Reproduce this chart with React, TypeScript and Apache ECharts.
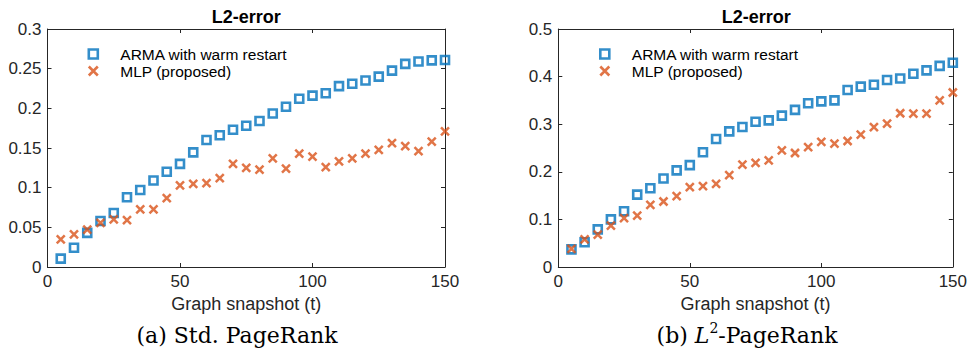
import React, { useEffect, useRef } from "react";
import * as echarts from "echarts";

// Snapshot index (x) shared by both panels
const snapshots = [
  5, 10, 15, 20, 25, 30, 35, 40, 45, 50, 55, 60, 65, 70, 75,
  80, 85, 90, 95, 100, 105, 110, 115, 120, 125, 130, 135, 140, 145, 150,
];

// (a) Std. PageRank
const armaStd = [
  0.0105, 0.0243, 0.043, 0.058, 0.068, 0.088, 0.097, 0.109, 0.12, 0.13,
  0.1445, 0.16, 0.166, 0.173, 0.178, 0.184, 0.1935, 0.202, 0.212, 0.216,
  0.219, 0.228, 0.231, 0.235, 0.24, 0.2475, 0.256, 0.259, 0.2605, 0.261,
];
const mlpStd = [
  0.0348, 0.041, 0.047, 0.0557, 0.06, 0.059, 0.0725, 0.0725, 0.0867, 0.103,
  0.1047, 0.1056, 0.112, 0.13, 0.125, 0.1227, 0.137, 0.124, 0.143, 0.139,
  0.126, 0.133, 0.137, 0.143, 0.1475, 0.156, 0.1525, 0.146, 0.158, 0.171,
];

// (b) L2-PageRank
const armaL2 = [
  0.037, 0.052, 0.079, 0.1, 0.117, 0.152, 0.1655, 0.186, 0.203, 0.214,
  0.241, 0.269, 0.285, 0.294, 0.305, 0.308, 0.318, 0.33, 0.344, 0.348,
  0.35, 0.372, 0.379, 0.383, 0.393, 0.396, 0.406, 0.413, 0.4225, 0.429,
];
const mlpL2 = [
  0.038, 0.058, 0.068, 0.087, 0.1027, 0.108, 0.1306, 0.1376, 0.149, 0.168,
  0.17, 0.1746, 0.193, 0.215, 0.2186, 0.224, 0.245, 0.2395, 0.252, 0.263,
  0.259, 0.2647, 0.278, 0.294, 0.301, 0.323, 0.322, 0.322, 0.35, 0.3666,
];

const seriesNames = ["ARMA with warm restart", "MLP (proposed)"];
const panelTitle = "L2-error";
const xAxisName = "Graph snapshot (t)";
const xTicks = { min: 0, max: 150, interval: 50 };
const yTicksStd = { min: 0, max: 0.3, interval: 0.05 };
const yTicksL2 = { min: 0, max: 0.5, interval: 0.1 };

const BLUE = "#0072BD";
const ORANGE = "#D95319";
const AXIS = "#262626";
const SANS = "'Liberation Sans', Arial, Helvetica, sans-serif";
const SERIF = "'DejaVu Serif', 'Liberation Serif', serif";

const grids = [
  { left: 47.5, top: 29, width: 397.5, height: 238 },
  { left: 558.3, top: 29, width: 396, height: 238 },
];

const pairs = (ys: number[]) => snapshots.map((x, i) => [x, ys[i]]);

function buildOption() {
  const xAxes: any[] = [];
  const yAxes: any[] = [];
  const yRanges = [yTicksStd, yTicksL2];
  const tick = { show: true, inside: true, length: 4, lineStyle: { color: AXIS } };
  const line = { show: true, onZero: false, lineStyle: { color: AXIS, width: 1 } };
  grids.forEach((_, gi) => {
    // bottom axis with labels + top mirror axis closing the box
    xAxes.push({
      type: "value",
      gridIndex: gi,
      position: "bottom",
      ...xTicks,
      name: xAxisName,
      nameLocation: "middle",
      nameGap: 25,
      nameTextStyle: { fontFamily: SANS, fontSize: 18, color: AXIS },
      axisLine: line,
      axisTick: tick,
      axisLabel: { margin: 6, fontFamily: SANS, fontSize: 17, color: AXIS },
      splitLine: { show: false },
    });
    xAxes.push({
      type: "value",
      gridIndex: gi,
      position: "top",
      ...xTicks,
      axisLine: line,
      axisTick: tick,
      axisLabel: { show: false },
      splitLine: { show: false },
    });
    yAxes.push({
      type: "value",
      gridIndex: gi,
      position: "left",
      ...yRanges[gi],
      axisLine: line,
      axisTick: tick,
      axisLabel: { margin: 6, fontFamily: SANS, fontSize: 17, color: AXIS },
      splitLine: { show: false },
    });
    yAxes.push({
      type: "value",
      gridIndex: gi,
      position: "right",
      ...yRanges[gi],
      axisLine: line,
      axisTick: tick,
      axisLabel: { show: false },
      splitLine: { show: false },
    });
  });

  // hollow square and "x" markers
  const square = {
    symbol: "path://M0,0L10,0L10,10L0,10Z",
    symbolSize: 8,
    symbolKeepAspect: true,
    itemStyle: { color: "rgba(0,0,0,0)", borderColor: BLUE, borderWidth: 2.6 },
  };
  const cross = {
    symbol: "path://M0,0L10,10M10,0L0,10",
    symbolSize: 8,
    symbolKeepAspect: true,
    itemStyle: { color: "rgba(0,0,0,0)", borderColor: ORANGE, borderWidth: 2.5 },
  };

  const panels = [
    [armaStd, mlpStd],
    [armaL2, mlpL2],
  ];
  const series: any[] = [];
  panels.forEach((vals, gi) => {
    series.push({
      type: "scatter",
      name: seriesNames[0],
      xAxisIndex: gi * 2,
      yAxisIndex: gi * 2,
      data: pairs(vals[0]),
      ...square,
    });
    series.push({
      type: "scatter",
      name: seriesNames[1],
      xAxisIndex: gi * 2,
      yAxisIndex: gi * 2,
      data: pairs(vals[1]),
      ...cross,
    });
  });

  const legendBase = {
    orient: "vertical",
    top: 41,
    itemWidth: 9,
    itemHeight: 9,
    itemGap: 1,
    itemStyle: { borderWidth: 2.6 },
    textStyle: { fontFamily: SANS, fontSize: 15.5, color: "#000", padding: [0, 0, 0, 17.5] },
    data: seriesNames,
  };

  return {
    animation: false,
    backgroundColor: "#fff",
    grid: grids.map((g) => ({ ...g, show: false, containLabel: false })),
    xAxis: xAxes,
    yAxis: yAxes,
    series,
    legend: [
      { ...legendBase, left: 82.5 },
      { ...legendBase, left: 594 },
    ],
    graphic: [
      ...grids.map((g) => ({
        type: "text",
        x: g.left + g.width / 2,
        y: 17,
        style: {
          text: panelTitle,
          font: `bold 18px ${SANS}`,
          fill: "#000",
          align: "center",
          verticalAlign: "middle",
        },
      })),
      {
        type: "text",
        x: 237,
        y: 335,
        style: {
          text: "(a) Std. PageRank",
          font: `22px ${SERIF}`,
          fill: "#000",
          align: "center",
          verticalAlign: "middle",
        },
      },
      {
        type: "text",
        x: 747,
        y: 335,
        style: {
          text: "{n|(b) }{i|L}{s|2}{n|-PageRank}",
          fill: "#000",
          align: "center",
          verticalAlign: "middle",
          rich: {
            n: { fontFamily: SERIF, fontSize: 22, lineHeight: 28, verticalAlign: "middle" },
            i: { fontFamily: SERIF, fontSize: 22, fontStyle: "italic", lineHeight: 28, verticalAlign: "middle" },
            s: { fontFamily: SERIF, fontSize: 14, lineHeight: 14, verticalAlign: "top" },
          },
        },
      },
    ],
  };
}

export default function App() {
  const ref = useRef<HTMLDivElement>(null);
  useEffect(() => {
    if (!ref.current) return;
    const chart = echarts.init(ref.current, null, { renderer: "svg" });
    chart.setOption(buildOption() as any);
    return () => chart.dispose();
  }, []);
  return (
    <div
      ref={ref}
      style={{ position: "absolute", left: 0, top: 0, width: 970, height: 349, background: "#fff" }}
    />
  );
}
